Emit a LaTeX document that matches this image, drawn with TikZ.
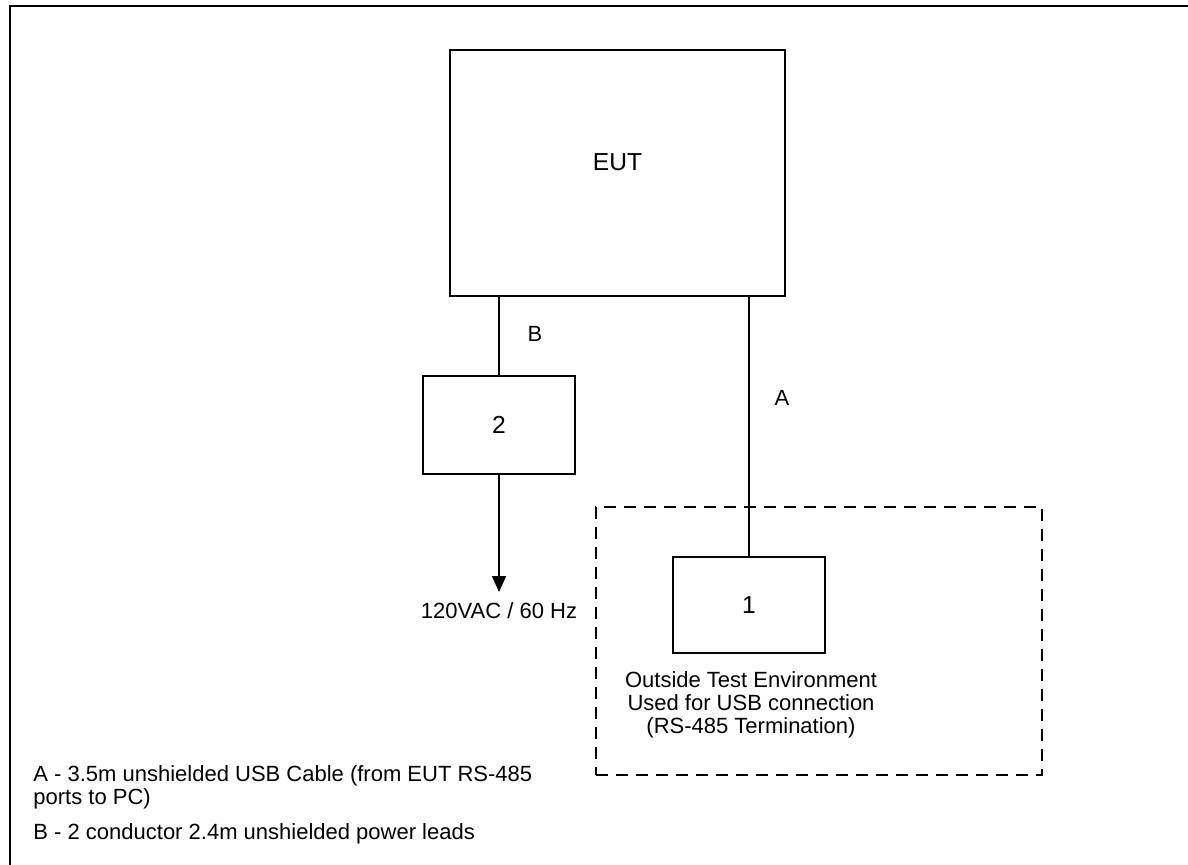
\documentclass[tikz,border=0pt]{standalone}
\usepackage{fontspec}
\setmainfont{Liberation Sans}
\usetikzlibrary{arrows.meta,positioning}

\begin{document}
\begin{tikzpicture}[x=0.5pt,y=-0.5pt,
  unitbox/.style={draw,line width=1pt,minimum width=76pt,minimum height=49pt,
        font=\fontsize{12.3}{14}\selectfont},
  lbl/.style={font=\fontsize{11}{11.4}\selectfont,inner sep=0pt},
  cable/.style={line width=1pt}]
  \useasboundingbox (0,0) rectangle (1188,865);

  %% Page frame (cut at right and bottom)
  \draw[line width=1pt] (10,865) |- (1188,6);

  %% Equipment under test
  \node[unitbox,minimum width=167.5pt,minimum height=123pt] (eut) at (617.5,173)
        {\raisebox{11pt}{EUT}};

  %% Power unit with mains feed
  \node[unitbox] (psu) at (499,425) {2};
  \coordinate (mains) at (499,592);
  \draw[cable,-{Triangle[length=8pt,width=7pt]}] (psu.south) -- (mains);
  \node[lbl] (mainslbl) at (499,611) {120VAC / 60 Hz};

  %% Outside test environment
  \node[draw,line width=0.75pt,dash pattern=on 6pt off 4pt,
        minimum width=223pt,minimum height=134pt] (env) at (819,641) {};
  \node[unitbox,minimum height=48pt] (pc) at (749,605) {1};
  \node[lbl,align=center] (envlbl) at (751,705)
        {Outside Test Environment\\Used for USB connection\\(RS-485 Termination)};

  %% Cables
  \draw[cable] (psu.north) -- (psu.north |- eut.south);
  \draw[cable] (pc.north) -- (pc.north |- eut.south);
  \node[lbl] (cableB) at (535,334) {B};
  \node[lbl] (cableA) at (782,398) {A};

  %% Legend
  \node[lbl,align=left,anchor=north west] (legendA) at (33,765)
        {A - 3.5m unshielded USB Cable (from EUT RS-485\\ports to PC)};
  \node[lbl,anchor=base west] (legendB) at (33,839)
        {B - 2 conductor 2.4m unshielded power leads};
\end{tikzpicture}
\end{document}
